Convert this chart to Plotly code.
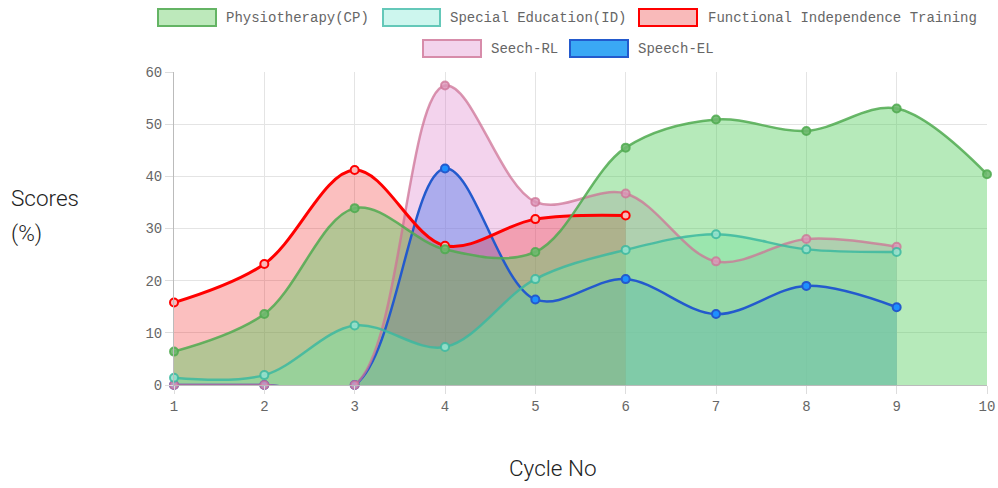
import plotly.graph_objects as go

# ---------------- data ----------------
cycles = [1, 2, 3, 4, 5, 6, 7, 8, 9, 10]
physio = [6.4, 13.6, 33.9, 26.0, 25.5, 45.5, 50.9, 48.7, 53.0, 40.4]
special_ed = [1.4, 1.9, 11.4, 7.3, 20.3, 25.9, 28.9, 26.0, 25.5]
functional = [15.8, 23.2, 41.2, 26.7, 31.8, 32.5]
seech_rl = [0, 0, 0, 57.4, 35.1, 36.7, 23.7, 28.0, 26.5]
speech_el = [0, 0, 0, 41.5, 16.4, 20.3, 13.6, 19.0, 14.9]

series_names = ["Physiotherapy(CP)", "Special Education(ID)",
                "Functional Independence Training", "Seech-RL", "Speech-EL"]
series_values = [physio, special_ed, functional, seech_rl, speech_el]
x_title = "Cycle No"
y_title_lines = ["Scores", "(%)"]

# ---------------- styles ----------------
line_colors = ["rgba(80,170,80,0.85)", "rgba(60,185,160,0.85)",
               "rgb(255,0,0)", "rgba(205,115,150,0.75)", "rgb(35,90,205)"]
legend_border = ["rgb(100,180,100)", "rgb(100,200,185)", "rgb(255,0,0)",
                 "rgb(215,140,170)", "rgb(35,90,205)"]
fill_colors = ["rgba(80,205,90,0.42)", "rgba(150,240,210,0.45)",
               "rgba(240,20,20,0.27)", "rgba(215,110,195,0.30)",
               "rgba(30,130,255,0.45)"]
marker_fills = ["rgba(110,185,110,0.9)", "rgba(150,225,205,0.9)",
                "rgb(250,185,185)", "rgba(220,150,185,0.8)", "rgb(30,144,255)"]
line_widths = [2.5, 2.5, 3, 2.5, 2.5]
legend_fill = ["rgb(189,233,187)", "rgb(205,246,238)", "rgb(249,186,186)",
               "rgb(243,211,236)", "rgb(58,168,245)"]

W, H = 998, 488
L, T = 174, 72
R = W - 987
B = H - 385
PW, PH = W - L - R, H - T - B


def px_x(p):
    return (p - L) / PW


def px_y(p):
    return (T + PH - p) / PH


fig = go.Figure()

# fills first (last series at the bottom), then lines on top
for i in reversed(range(len(series_values))):
    ys = series_values[i]
    fig.add_trace(go.Scatter(
        x=cycles[:len(ys)], y=ys, mode="lines", fill="tozeroy",
        fillcolor=fill_colors[i],
        line=dict(width=0, shape="spline", smoothing=1.0, color=line_colors[i]),
        showlegend=False, hoverinfo="skip"))

for i in reversed(range(len(series_values))):
    ys = series_values[i]
    fig.add_trace(go.Scatter(
        x=cycles[:len(ys)], y=ys, mode="lines+markers", name=series_names[i],
        line=dict(width=line_widths[i], shape="spline", smoothing=1.0,
                  color=line_colors[i]),
        marker=dict(size=8, color=marker_fills[i],
                    line=dict(width=2, color=line_colors[i])),
        cliponaxis=False, showlegend=False))

# manual legend (boxes + labels)
legend_boxes = [(158, 216, 9, 26), (383, 440, 9, 26), (639, 697, 9, 26),
                (423, 481, 40, 57), (570, 628, 40, 57)]
legend_text_x = [224, 448, 706, 489, 636]
shapes = []
annotations = []
for i, (x0, x1, y0, y1) in enumerate(legend_boxes):
    shapes.append(dict(type="rect", xref="paper", yref="paper",
                       x0=px_x(x0), x1=px_x(x1), y0=px_y(y1), y1=px_y(y0),
                       fillcolor=legend_fill[i],
                       line=dict(color=legend_border[i], width=2)))
    annotations.append(dict(text=series_names[i], xref="paper", yref="paper",
                            x=px_x(legend_text_x[i]), y=px_y((y0 + y1) / 2),
                            xanchor="left", yanchor="middle", showarrow=False,
                            font=dict(family="Liberation Mono", size=14,
                                      color="#666")))

title_font = dict(family="Roboto", size=22.5, color="#222", weight=300)
annotations.append(dict(text=y_title_lines[0], xref="paper", yref="paper",
                        x=px_x(9), y=px_y(198), xanchor="left", yanchor="middle",
                        showarrow=False, font=title_font))
annotations.append(dict(text=y_title_lines[1], xref="paper", yref="paper",
                        x=px_x(9), y=px_y(233), xanchor="left", yanchor="middle",
                        showarrow=False, font=title_font))
annotations.append(dict(text=x_title, xref="paper", yref="paper",
                        x=px_x(553), y=px_y(468), xanchor="center",
                        yanchor="middle", showarrow=False, font=title_font))

tick_font = dict(family="Liberation Mono", size=14, color="#666")
fig.update_layout(
    width=W, height=H,
    margin=dict(l=L, r=R, t=T, b=B, autoexpand=False),
    paper_bgcolor="white", plot_bgcolor="white",
    showlegend=False,
    shapes=shapes, annotations=annotations,
    xaxis=dict(range=[1, 10], dtick=1, tick0=1, showgrid=True,
               gridcolor="#e4e4e4", gridwidth=1, zeroline=False,
               showline=True, linecolor="#bbb", linewidth=1,
               ticks="outside", ticklen=8, tickcolor="#ddd",
               tickfont=tick_font, automargin=False),
    yaxis=dict(range=[0, 60], dtick=10, showgrid=True, gridcolor="#e4e4e4",
               gridwidth=1, zeroline=False, showline=True, linecolor="#bbb",
               linewidth=1, ticks="outside", ticklen=8, tickcolor="#ddd",
               tickfont=tick_font, automargin=False),
)

fig.write_html("out.html", config={"displayModeBar": False},
               post_script="document.body.style.margin='0';"
                           "document.body.style.overflow='hidden';")
